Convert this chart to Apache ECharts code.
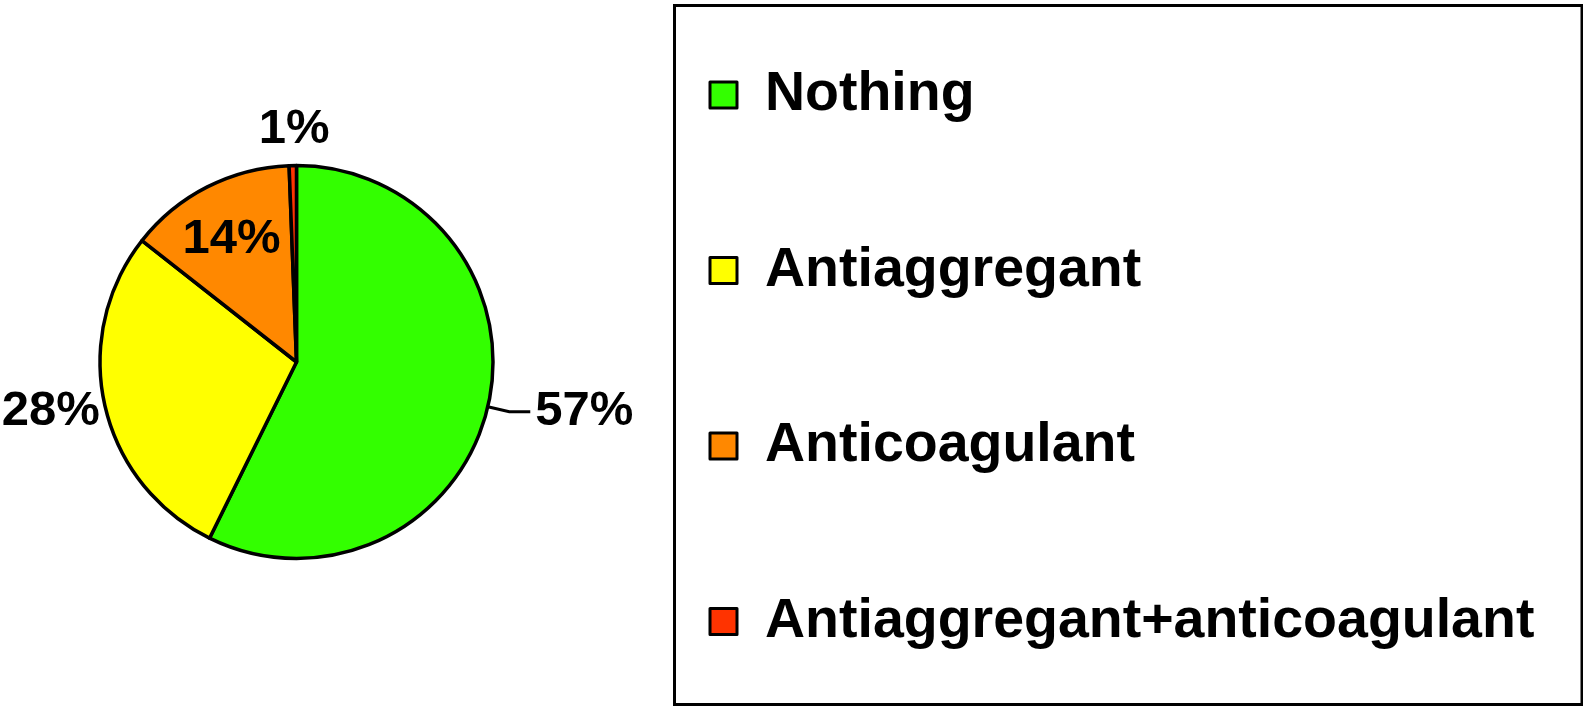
<!DOCTYPE html>
<html>
<head>
<meta charset="utf-8">
<title>Treatment pie</title>
<script src="https://cdn.jsdelivr.net/npm/echarts@6/dist/echarts.min.js"></script>
<style>
  html, body { margin: 0; padding: 0; background: #fff; }
  #main { width: 1583px; height: 708px; }
</style>
</head>
<body>
<div id="main"></div>
<script>
// data (share of patients, %)
const categories = ['Nothing', 'Antiaggregant', 'Anticoagulant', 'Antiaggregant+anticoagulant']
const shares = [57.3, 28.3, 13.8, 0.6]
const sliceColors = ['#33ff00', '#ffff00', '#ff8800', '#ff3300']

const font = 'Liberation Sans, Arial, Helvetica, sans-serif'

// label placement per slice (same order as categories)
function sliceLabel (i) {
  if (i === 0) return { label: { position: 'outside' }, labelLine: { show: true, length: 22, length2: 21 } }
  if (i === 1) return { label: { position: 'outside' }, labelLine: { show: false, length: 0, length2: 0 } }
  if (i === 2) return { label: { position: 'inside' }, labelLine: { show: false } }
  return { label: { position: 'outside' }, labelLine: { show: false, length: 36, length2: 0 } }
}

let pieData = categories.map(function (name, i) {
  let s = sliceLabel(i)
  return {
    name: name,
    value: shares[i],
    itemStyle: { color: sliceColors[i] },
    label: s.label,
    labelLine: s.labelLine
  }
})

let myChart = echarts.init(document.getElementById('main'))

let option = {
  backgroundColor: '#fff',
  animation: false,
  // frame round the legend
  graphic: [{
    type: 'rect',
    shape: { x: 674.5, y: 5.5, width: 907.5, height: 699 },
    style: { fill: 'none', stroke: '#000', lineWidth: 3 },
    silent: true
  }],
  legend: {
    orient: 'vertical',
    left: 708.5,
    top: 63.5,
    padding: 0,
    itemWidth: 27,
    itemHeight: 26,
    itemGap: 112.5,
    icon: 'rect',
    selectedMode: false,
    data: categories,
    itemStyle: { borderColor: '#000', borderWidth: 3 },
    textStyle: {
      fontFamily: font,
      fontWeight: 'bold',
      fontSize: 55.5,
      lineHeight: 55,
      color: '#000',
      padding: [8, 0, 0, 23]
    }
  },
  series: [{
    type: 'pie',
    center: [296.5, 362],
    radius: 196.5,
    startAngle: 90,
    clockwise: true,
    avoidLabelOverlap: false,
    itemStyle: { borderColor: '#000', borderWidth: 3.5 },
    label: {
      color: '#000',
      fontFamily: font,
      fontWeight: 'bold',
      fontSize: 49,
      lineHeight: 49,
      padding: [8, 0, 0, 0],
      formatter: function (p) { return Math.round(p.percent) + '%' }
    },
    labelLine: {
      lineStyle: { color: '#000', width: 3 }
    },
    // nudge the inner 14% label outwards, centre the small 1% label
    labelLayout: function (params) {
      if (params.dataIndex === 1) return { dy: 6 }
      if (params.dataIndex === 2) return { dx: -19, dy: -32 }
      if (params.dataIndex === 3) return { align: 'center', dx: 7 }
      return {}
    },
    emphasis: { disabled: true },
    data: pieData
  }]
}

myChart.setOption(option)
</script>
</body>
</html>
